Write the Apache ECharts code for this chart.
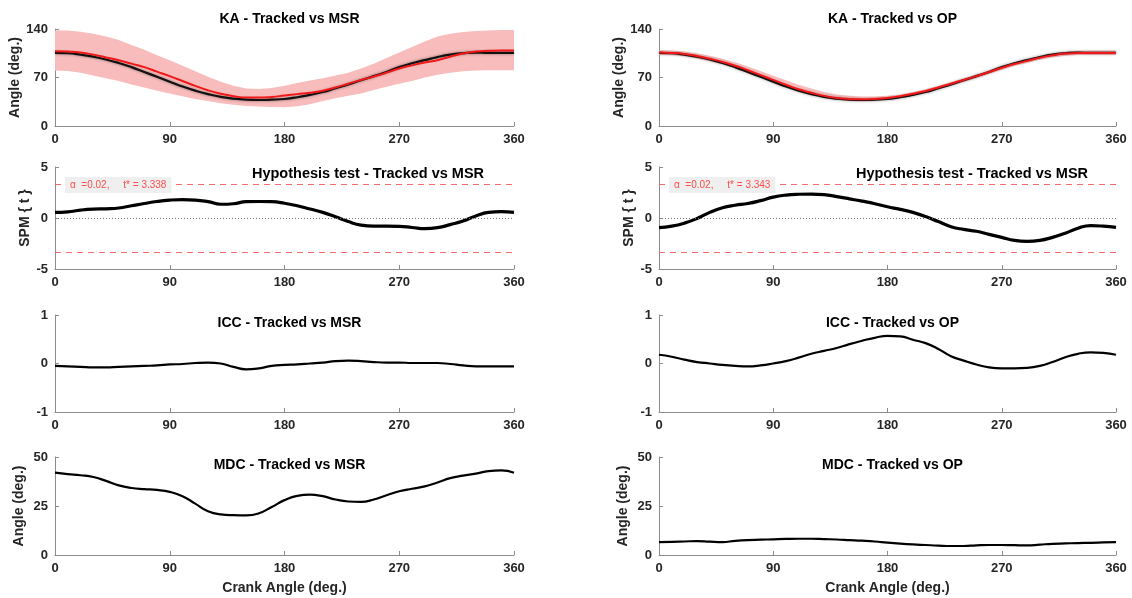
<!DOCTYPE html>
<html>
<head>
<meta charset="utf-8">
<script src="https://cdn.jsdelivr.net/npm/echarts@6/dist/echarts.min.js"></script>
<style>
html,body{margin:0;padding:0;background:#fff;}
#c{width:1132px;height:598px;}
</style>
</head>
<body>
<div id="c"></div>
<script>
// Crank angle samples (deg.)
var crank = [0,10,20,30,40,50,60,70,80,90,100,110,120,130,140,150,160,170,180,190,200,210,220,230,240,250,260,270,280,290,300,310,320,330,340,350,360];
var xTicks = [0, 90, 180, 270, 360];

// Knee angle - Tracked (mean)
var kaTracked = [105.5,105,103,100,96,91,85,78,71,64,57,51,46,42,39.5,38,37.5,38,39,41.5,45,49,54.5,60,66,72,78,85,90.5,95,99.5,103,105,106,105.5,105.5,105.5];
// Knee angle - MSR (mean, upper, lower)
var kaMSR = [108,107.5,106,103,99,95,90,85,78.5,72,65,58,51.5,46.5,43,41,41,42,44,46,48,51,55.5,61,66.5,71.5,77,83,87.5,91.5,95,100,104.5,107.5,108.5,109,109];
var kaMSRUpper = [138,138,136,133,129,124,117,110,102,95,87,79,71,64,58,54,53.5,55,58,62,65.5,69,73,77,83,90,98,106,114,122,129,133,135.5,137,138,138.5,138.5];
var kaMSRLower = [80,79.5,77,73,69,65,60,55.5,51,47,43,39,36,33,30.5,29,28,27.5,27,28.5,31.5,36,40,43.5,47,52,56.5,61,65,70,74,77,79,80,80.5,80.5,80.5];
// Knee angle - OP (mean, upper, lower)
var kaOP = [106,105.5,104,101,97,92.5,87,80.5,73.5,66.5,59.5,53,48,43.5,40.5,39,38.5,39,40.5,43,46.5,50.5,55.5,61,66.5,72,78,84,89.5,94,98.5,102,104.5,105.5,105.5,105.5,105.5];
var kaOPUpper = [109.5,109,107.5,105,101.5,97,92,86,79.5,72.5,66,59.5,54,49,45.5,43.5,42.5,42.5,43.5,45.5,49,53,58,63.5,69,74.5,80.5,86.5,92,96.5,101,104.5,107,108.5,109,109,109];
var kaOPLower = [102.5,102,100.5,97.5,93.5,89,83,76.5,69.5,62.5,55.5,49.5,44.5,40.5,37.5,36,35.5,36,37.5,40,43.5,47.5,52.5,58,63.5,69,75,81,86.5,91,95.5,99,101.5,102.5,102.5,102.5,102.5];

// SPM{t}
var spmMSR = [0.55,0.6,0.77,0.87,0.9,0.98,1.2,1.42,1.62,1.75,1.8,1.76,1.6,1.35,1.4,1.6,1.62,1.6,1.45,1.2,0.88,0.55,0.12,-0.35,-0.7,-0.8,-0.8,-0.82,-0.93,-1.05,-0.95,-0.65,-0.3,0.2,0.55,0.62,0.55];
var spmOP = [-0.95,-0.8,-0.5,-0.05,0.55,1.0,1.25,1.42,1.7,2.05,2.25,2.33,2.35,2.3,2.1,1.88,1.65,1.4,1.1,0.85,0.55,0.15,-0.35,-0.85,-1.12,-1.3,-1.6,-1.9,-2.2,-2.3,-2.2,-1.9,-1.5,-1.0,-0.75,-0.8,-0.92];
var tStarMSR = 3.338;
var tStarOP = 3.343;
var alpha = 0.02;

// ICC
var iccMSR = [-0.05,-0.06,-0.07,-0.08,-0.08,-0.07,-0.06,-0.05,-0.04,-0.02,-0.01,0.01,0.02,0.0,-0.07,-0.12,-0.1,-0.05,-0.03,-0.02,0.0,0.02,0.05,0.06,0.05,0.03,0.02,0.02,0.01,0.01,0.01,-0.01,-0.04,-0.06,-0.06,-0.06,-0.06];
var iccOP = [0.18,0.14,0.08,0.03,0.0,-0.03,-0.05,-0.06,-0.04,0.0,0.05,0.12,0.2,0.26,0.32,0.4,0.47,0.53,0.57,0.56,0.49,0.42,0.3,0.15,0.06,-0.02,-0.08,-0.1,-0.1,-0.09,-0.05,0.03,0.13,0.2,0.23,0.22,0.18];

// MDC (deg.)
var mdcMSR = [42,41.3,40.7,39.8,37.8,35.5,34.2,33.6,33.2,32.2,30,26.2,22.3,20.7,20.3,20.2,21.3,24.5,28,30.2,30.8,30,28.3,27.3,27.1,28.3,30.5,32.5,33.8,35,37,39.2,40.5,41.5,42.8,43.2,42];
var mdcOP = [6.6,6.7,6.9,7.1,6.8,6.6,7.2,7.6,7.8,8,8.2,8.3,8.3,8.1,7.9,7.6,7.3,6.9,6.3,5.8,5.4,5.1,4.8,4.6,4.6,4.9,5.1,5.1,5.0,4.9,5.3,5.7,5.9,6.1,6.2,6.4,6.6];

var panelTitles = ['KA - Tracked vs MSR','KA - Tracked vs OP','Hypothesis test - Tracked vs MSR','Hypothesis test - Tracked vs MSR','ICC - Tracked vs MSR','ICC - Tracked vs OP','MDC - Tracked vs MSR','MDC - Tracked vs OP'];
var yNames = ['Angle (deg.)','Angle (deg.)','SPM { t }','SPM { t }','','','Angle (deg.)','Angle (deg.)'];
var yRanges = [[0,140,70],[0,140,70],[-5,5,5],[-5,5,5],[-1,1,1],[-1,1,1],[0,50,25],[0,50,25]];
var xName = 'Crank Angle (deg.)';

function pairs(ys){ return crank.map(function(x,i){ return [x, ys[i]]; }); }

var FONT = 'Liberation Sans, Arial, sans-serif';
var axisGray = '#8c8c8c';
var labelColor = '#262626';

var cols = [{left:55, width:459},{left:659, width:457}];
var rows = [{top:29, height:97},{top:167, height:102},{top:315, height:97},{top:457, height:98}];

var grids = [], xAxes = [], yAxes = [];
for (var r=0;r<4;r++){
  for (var c=0;c<2;c++){
    var k = r*2+c;
    grids.push({left:cols[c].left, width:cols[c].width, top:rows[r].top, height:rows[r].height});
    xAxes.push({
      type:'value', gridIndex:k, min:0, max:360, interval:90,
      axisLine:{show:true, onZero:false, lineStyle:{color:axisGray, width:1}},
      axisTick:{show:true, inside:true, length:4, lineStyle:{color:axisGray}},
      axisLabel:{color:labelColor, fontFamily:FONT, fontWeight:'bold', fontSize:13, margin:7},
      splitLine:{show:false},
      name: r===3 ? xName : '', nameLocation:'middle', nameGap:26,
      nameTextStyle:{color:labelColor, fontFamily:FONT, fontWeight:'bold', fontSize:14}
    });
    yAxes.push({
      type:'value', gridIndex:k, min:yRanges[k][0], max:yRanges[k][1], interval:yRanges[k][2],
      axisLine:{show:true, onZero:false, lineStyle:{color:axisGray, width:1}},
      axisTick:{show:true, inside:true, length:4, lineStyle:{color:axisGray}},
      axisLabel:{color:labelColor, fontFamily:FONT, fontWeight:'bold', fontSize:13, margin:7},
      splitLine:{show:false},
      name: yNames[k], nameLocation:'middle', nameGap: (r===1 ? 23 : 29), nameRotate:90,
      nameTextStyle:{color:labelColor, fontFamily:FONT, fontWeight:'bold', fontSize:14}
    });
  }
}

var titles = [];
var titleTops = [7, 161, 311, 453];
for (var r=0;r<4;r++){
  for (var c=0;c<2;c++){
    var k=r*2+c;
    var cx = cols[c].left + cols[c].width/2;
    if (r===1) cx = cols[c].left + 308;
    titles.push({text:panelTitles[k], left:cx, top:titleTops[r], textAlign:'center',
      textStyle:{color:'#000', fontFamily:FONT, fontWeight:'bold', fontSize:r===1 ? 14.5 : 14}});
  }
}
// alpha / t* annotations
[[tStarMSR, 0],[tStarOP, 1]].forEach(function(p){
  titles.push({text:'\u03b1  =' + alpha.toFixed(2) + ',     t* = ' + p[0].toFixed(3),
    left: cols[p[1]].left + 10, top: 177, padding:[3,5,3,5], backgroundColor:'#efefef',
    textStyle:{color:'#ff4d4d', fontFamily:FONT, fontWeight:'normal', fontSize:10}});
});

var series = [];
// Shaded band drawn as a polygon through the axis scale (api.coord)
function bandSeries(k, upper, lower, color){
  var data = crank.map(function(x,i){ return [x, upper[i], lower[i]]; });
  series.push({
    type:'custom', xAxisIndex:k, yAxisIndex:k, data:data, silent:true, z:1,
    encode:{x:0, y:[1,2]},
    renderItem:function(params, api){
      if (params.dataIndex !== 0) return null;
      var top = [], bot = [];
      for (var i=0;i<data.length;i++){
        top.push(api.coord([data[i][0], data[i][1]]));
        bot.push(api.coord([data[i][0], data[i][2]]));
      }
      var pts = top.concat(bot.reverse());
      return {type:'polygon', shape:{points:pts}, style:{fill:color, stroke:null}};
    }
  });
}
function lineSeries(k, ys, color, width, shadow, z){
  var s = {type:'line', xAxisIndex:k, yAxisIndex:k, data:pairs(ys), smooth:true, symbol:'none',
    lineStyle:{color:color, width:width}, z:z||3};
  if (shadow){ s.lineStyle.shadowColor='rgba(0,0,0,0.45)'; s.lineStyle.shadowBlur=3; }
  series.push(s);
  return s;
}

// KA panels
bandSeries(0, kaMSRUpper, kaMSRLower, '#f8bcbc');
lineSeries(0, kaTracked, '#111', 2.2, true, 3);
lineSeries(0, kaMSR, '#f01818', 2, false, 4);
bandSeries(1, kaOPUpper, kaOPLower, '#f8bcbc');
lineSeries(1, kaTracked, '#111', 2.2, true, 3);
lineSeries(1, kaOP, '#f01818', 2, false, 4);

// SPM panels
function spmPanel(k, ys, tStar){
  var s = lineSeries(k, ys, '#000', 3.2, false, 4);
  s.markLine = {symbol:'none', silent:true, label:{show:false}, animation:false,
    data:[
      {yAxis:tStar, lineStyle:{color:'#f56b6b', type:[6,5], width:1}},
      {yAxis:-tStar, lineStyle:{color:'#f56b6b', type:[6,5], width:1}},
      {yAxis:0, lineStyle:{color:'#777', type:[1,2], width:1}}
    ]};
}
spmPanel(2, spmMSR, tStarMSR);
spmPanel(3, spmOP, tStarOP);

// ICC panels
lineSeries(4, iccMSR, '#000', 2.2, false, 3);
lineSeries(5, iccOP, '#000', 2.2, false, 3);
// MDC panels
lineSeries(6, mdcMSR, '#000', 2.2, false, 3);
lineSeries(7, mdcOP, '#000', 2.2, false, 3);

var chart = echarts.init(document.getElementById('c'), null, {renderer:'canvas'});
chart.setOption({
  backgroundColor:'#fff',
  animation:false,
  title:titles,
  grid:grids,
  xAxis:xAxes,
  yAxis:yAxes,
  series:series
});
</script>
</body>
</html>
